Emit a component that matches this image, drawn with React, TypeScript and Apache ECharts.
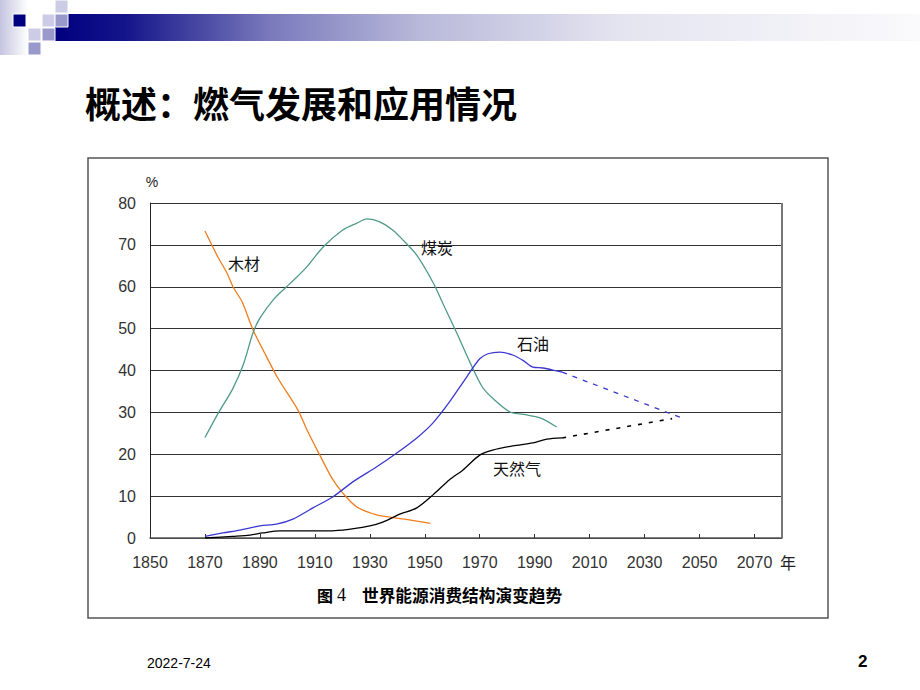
import React, { useEffect, useRef } from "react";
import * as echarts from "echarts";

const xTicks = [1850, 1870, 1890, 1910, 1930, 1950, 1970, 1990, 2010, 2030, 2050, 2070];

const wood: [number, number][] = [
  [1870, 73.3], [1874.7, 67.1], [1878, 63.3], [1880.2, 60], [1883.5, 56.4], [1887.5, 49.7],
  [1892.5, 43.2], [1896.5, 38.2], [1903.8, 30.6], [1907.5, 25.3], [1911.8, 19.8],
  [1916.2, 14.3], [1920.2, 10.7], [1925.3, 7.4], [1932.5, 5.5], [1937.3, 5],
  [1942.7, 4.5], [1949.3, 3.8], [1952, 3.5],
];

const coal: [number, number][] = [
  [1870, 24], [1875, 30], [1880, 35.5], [1884, 41.5], [1887.5, 49], [1890, 52.5],
  [1895, 57], [1901, 60.8], [1907, 64.7], [1913, 69.5], [1920, 73.5], [1925.3, 75.2],
  [1929, 76.2], [1933.6, 75.5], [1938.4, 73.5], [1942, 71.2], [1947, 67.6], [1953, 61],
  [1957.3, 55], [1961.6, 49], [1966.4, 42], [1971, 36], [1975, 33.2], [1981, 30.1],
  [1986, 29.5], [1992, 28.7], [1998, 26.5],
];

const oil: [number, number][] = [
  [1870, 0.4], [1876.5, 1.2], [1882.7, 1.9], [1890, 2.9], [1896, 3.3], [1902, 4.5],
  [1909.3, 7.2], [1916.5, 9.8], [1923.8, 13.4], [1932.5, 17], [1939.8, 20.3],
  [1947.1, 23.9], [1953, 27.5], [1959, 32.5], [1965.3, 38.5], [1970, 42.8], [1973, 44],
  [1977.3, 44.4], [1982, 43.7], [1986, 42.3], [1989.3, 40.8], [1993, 40.6], [1998, 39.9],
  [2000, 39.6],
];

const oilForecast: [number, number][] = [[2000, 39.6], [2043, 28.8]];

const gas: [number, number][] = [
  [1870, 0], [1880, 0.4], [1886.4, 0.7], [1891, 1.2], [1897.3, 1.7], [1910.7, 1.7],
  [1920.2, 1.9], [1930, 2.9], [1934.7, 3.8], [1940.9, 5.7], [1947.1, 7.2], [1953, 10.3],
  [1959, 13.9], [1963.8, 16.2], [1970, 19.8], [1974.7, 21], [1982, 22], [1989.3, 22.7],
  [1994.4, 23.6], [2000, 23.9],
];

const gasForecast: [number, number][] = [[2000, 23.9], [2040, 28.5]];

const seriesNames = ["木材", "煤炭", "石油", "天然气"];
const titleText = "概述：燃气发展和应用情况";
const captionText = "世界能源消费结构演变趋势";
const dateText = "2022-7-24";
const pageText = "2";

const CJK = "'Noto Sans CJK SC', sans-serif";
const NUM = "'Liberation Sans', Arial, sans-serif";

export default function App() {
  const ref = useRef<HTMLDivElement>(null);

  useEffect(() => {
    if (!ref.current) return;
    const chart = echarts.init(ref.current, null, { renderer: "svg" });

    const sq = (x: number, y: number, color: string) => ({
      type: "rect",
      shape: { x, y, width: 13, height: 13 },
      style: { fill: color, stroke: "#ffffff", lineWidth: 1 },
      z: 10,
    });

    const lab = (text: string, x: number, y: number) => ({
      type: "text",
      x,
      y,
      style: {
        text,
        fill: "#111",
        font: `16px ${CJK}`,
        align: "center",
        verticalAlign: "middle",
      },
      z: 20,
    });

    const lineStyleBase = { width: 1.3 };

    chart.setOption({
      animation: false,
      backgroundColor: "#ffffff",
      grid: { left: 150, top: 203, width: 632, height: 335, containLabel: false },
      xAxis: {
        type: "value",
        min: 1850,
        max: 2080,
        interval: 20,
        axisLine: { show: true, lineStyle: { color: "#555", width: 1.5 } },
        axisTick: { show: true, inside: true, length: 4, lineStyle: { color: "#333" } },
        axisLabel: {
          margin: 16,
          color: "#333",
          fontFamily: NUM,
          fontSize: 16,
          showMaxLabel: false,
          formatter: (v: number) => (xTicks.includes(v) ? String(v) : ""),
        },
        splitLine: { show: false },
      },
      yAxis: {
        type: "value",
        min: 0,
        max: 80,
        interval: 10,
        axisLine: { show: true, lineStyle: { color: "#222", width: 1 } },
        axisTick: { show: false },
        axisLabel: { margin: 14, color: "#333", fontFamily: NUM, fontSize: 16 },
        splitLine: { show: true, lineStyle: { color: "#333", width: 1 } },
      },
      graphic: [
        {
          type: "rect",
          shape: { x: 0, y: 0, width: 28, height: 55 },
          style: {
            fill: {
              type: "linear", x: 0, y: 0, x2: 1, y2: 0,
              colorStops: [
                { offset: 0, color: "#c4c4e0" },
                { offset: 1, color: "#ffffff" },
              ],
            },
          },
          z: 5,
        },
        {
          type: "rect",
          shape: { x: 55, y: 14, width: 865, height: 27 },
          style: {
            fill: {
              type: "linear", x: 0, y: 0, x2: 1, y2: 0,
              colorStops: [
                { offset: 0, color: "#000080" },
                { offset: 0.08, color: "#14148a" },
                { offset: 0.25, color: "#7a7abc" },
                { offset: 0.42, color: "#b8b8da" },
                { offset: 0.65, color: "#e4e4f0" },
                { offset: 1, color: "#fafafc" },
              ],
            },
          },
          z: 5,
        },
        sq(13, 14, "#000080"),
        sq(42, 14, "#ccccE6"),
        sq(55, 14, "#9999cc"),
        sq(55, 0, "#ccccE6"),
        sq(28, 28, "#ccccE6"),
        sq(42, 28, "#9999cc"),
        sq(28, 42, "#9999cc"),
        {
          type: "text",
          x: 85,
          y: 102,
          style: {
            text: titleText,
            fill: "#000",
            font: `bold 36px ${CJK}`,
            verticalAlign: "middle",
          },
          z: 10,
        },
        {
          type: "rect",
          shape: { x: 88, y: 158, width: 740, height: 460 },
          style: { fill: "none", stroke: "#555", lineWidth: 1.5 },
          z: 1,
        },
        {
          type: "line",
          shape: { x1: 782, y1: 203, x2: 782, y2: 538 },
          style: { stroke: "#777", lineWidth: 2 },
          z: 3,
        },
        {
          type: "text",
          x: 152,
          y: 182,
          style: { text: "%", fill: "#222", font: `14px ${NUM}`, align: "center", verticalAlign: "middle" },
          z: 10,
        },
        {
          type: "text",
          x: 780,
          y: 562,
          style: { text: "年", fill: "#222", font: `16px ${CJK}`, verticalAlign: "middle" },
          z: 10,
        },
        lab(seriesNames[0], 244, 263),
        lab(seriesNames[1], 437, 247),
        lab(seriesNames[2], 533, 343),
        lab(seriesNames[3], 517, 468),
        {
          type: "text",
          x: 317,
          y: 595,
          style: { text: "图", fill: "#000", font: `bold 16px ${CJK}`, verticalAlign: "middle" },
          z: 10,
        },
        {
          type: "text",
          x: 337,
          y: 595,
          style: { text: "4", fill: "#000", font: `18px 'Liberation Serif', serif`, verticalAlign: "middle" },
          z: 10,
        },
        {
          type: "text",
          x: 362,
          y: 595,
          style: { text: captionText, fill: "#000", font: `bold 16.7px ${CJK}`, verticalAlign: "middle" },
          z: 10,
        },
        {
          type: "text",
          x: 147,
          y: 663,
          style: { text: dateText, fill: "#000", font: `14px ${NUM}`, verticalAlign: "middle" },
          z: 10,
        },
        {
          type: "text",
          x: 858,
          y: 661,
          style: { text: pageText, fill: "#000", font: `bold 17px ${NUM}`, verticalAlign: "middle" },
          z: 10,
        },
      ],
      series: [
        {
          name: seriesNames[0], type: "line", data: wood, showSymbol: false, smooth: 0.3,
          lineStyle: { ...lineStyleBase, color: "#f07d1e" }, z: 4,
        },
        {
          name: seriesNames[1], type: "line", data: coal, showSymbol: false, smooth: 0.3,
          lineStyle: { ...lineStyleBase, color: "#4f9a88" }, z: 4,
        },
        {
          name: seriesNames[2], type: "line", data: oil, showSymbol: false, smooth: 0.3,
          lineStyle: { ...lineStyleBase, color: "#3a38d0" }, z: 4,
        },
        {
          name: seriesNames[2] + "预测", type: "line", data: oilForecast, showSymbol: false,
          lineStyle: { width: 1.3, color: "#3a38d0", type: [5, 6] }, z: 4,
        },
        {
          name: seriesNames[3], type: "line", data: gas, showSymbol: false, smooth: 0.3,
          lineStyle: { ...lineStyleBase, color: "#000000" }, z: 4,
        },
        {
          name: seriesNames[3] + "预测", type: "line", data: gasForecast, showSymbol: false,
          lineStyle: { width: 1.6, color: "#000000", type: [4, 7] }, z: 4,
        },
      ],
    });

    return () => chart.dispose();
  }, []);

  return (
    <div
      ref={ref}
      style={{ position: "absolute", left: 0, top: 0, width: 920, height: 690, background: "#fff" }}
    />
  );
}
